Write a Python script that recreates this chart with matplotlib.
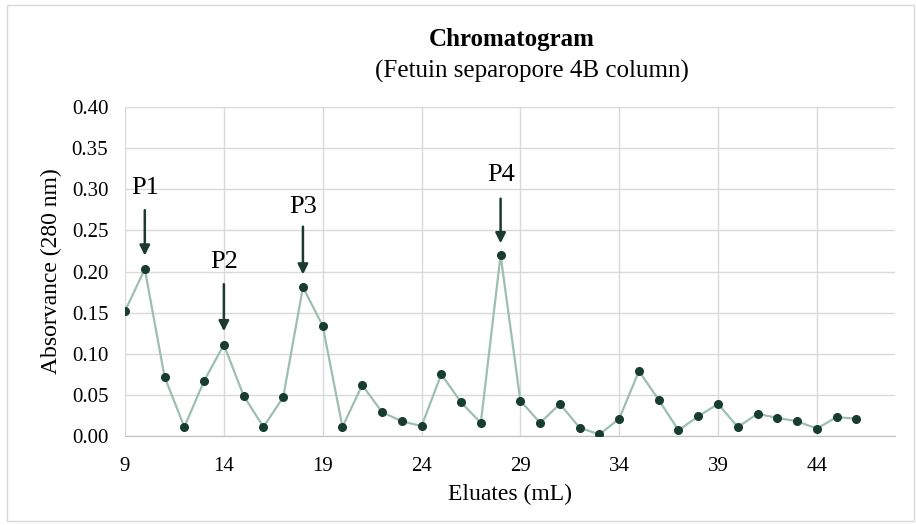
import numpy as np
import matplotlib.pyplot as plt
from matplotlib.patches import Rectangle

plt.rcParams['font.family'] = ['Liberation Serif', 'DejaVu Serif']

# eluate volume (mL) and absorbance at 280 nm
eluate = np.arange(9, 47)
absorb = [0.152, 0.203, 0.072, 0.011, 0.067, 0.111, 0.049, 0.011, 0.047, 0.181,
          0.134, 0.011, 0.062, 0.029, 0.018, 0.012, 0.075, 0.041, 0.016, 0.220,
          0.043, 0.016, 0.039, 0.010, 0.002, 0.021, 0.079, 0.044, 0.007, 0.024,
          0.039, 0.011, 0.027, 0.022, 0.018, 0.009, 0.023, 0.021]

peak_names = ["P1", "P2", "P3", "P4"]
peak_x = [10, 14, 18, 28]
peak_label_y = [0.302, 0.212, 0.278, 0.317]
arrow_start = [0.278, 0.188, 0.258, 0.292]
arrow_tip = [0.216, 0.124, 0.193, 0.231]

xticks = [9, 14, 19, 24, 29, 34, 39, 44]

fig = plt.figure(figsize=(9.16, 5.25), dpi=100)
ax = fig.add_axes([0.1365, 0.1695, 0.8405, 0.6265])

# outer chart border
fig.patches.append(Rectangle((0.008, 0.008), 0.99, 0.982, transform=fig.transFigure,
                             fill=False, edgecolor="#d9d9d9", linewidth=1))

ax.plot(eluate, absorb, color="#9dbfae", linewidth=1.6, zorder=2)
ax.plot(eluate, absorb, 'o', color="#173d30", markersize=5.5, zorder=3)

for name, x, ly, s, t in zip(peak_names, peak_x, peak_label_y, arrow_start, arrow_tip):
    ax.annotate('', xy=(x, t), xytext=(x, s),
                arrowprops=dict(arrowstyle='-|>,head_length=0.6,head_width=0.3',
                                color="#1c3b30", lw=1.8))
    ax.text(x, ly, name, ha='center', va='center', fontsize=19)

ax.set_xlim(9, 47.95)
ax.set_ylim(0, 0.40)
ax.set_xticks(xticks)
ax.set_yticks(np.arange(0, 0.41, 0.05))
ax.yaxis.set_major_formatter(plt.FormatStrFormatter('%.2f'))
ax.tick_params(length=0, labelsize=15)
ax.tick_params(axis='x', pad=15)
ax.tick_params(axis='y', pad=12)
ax.grid(True, color="#d9d9d9", linewidth=1)
ax.set_axisbelow(True)
for sp in ['top', 'right', 'left']:
    ax.spines[sp].set_visible(False)
ax.spines['bottom'].set_color("#bfbfbf")

ax.set_xlabel("Eluates (mL)", fontsize=17, labelpad=6)
ax.set_ylabel("Absorvance (280 nm)", fontsize=17, labelpad=7)

fig.text(0.559, 0.924, "Chromatogram", ha='center', va='center', fontsize=18, fontweight='bold')
fig.text(0.581, 0.863, "(Fetuin separopore 4B column)", ha='center', va='center', fontsize=18)

fig.savefig("out.png", dpi=100)
